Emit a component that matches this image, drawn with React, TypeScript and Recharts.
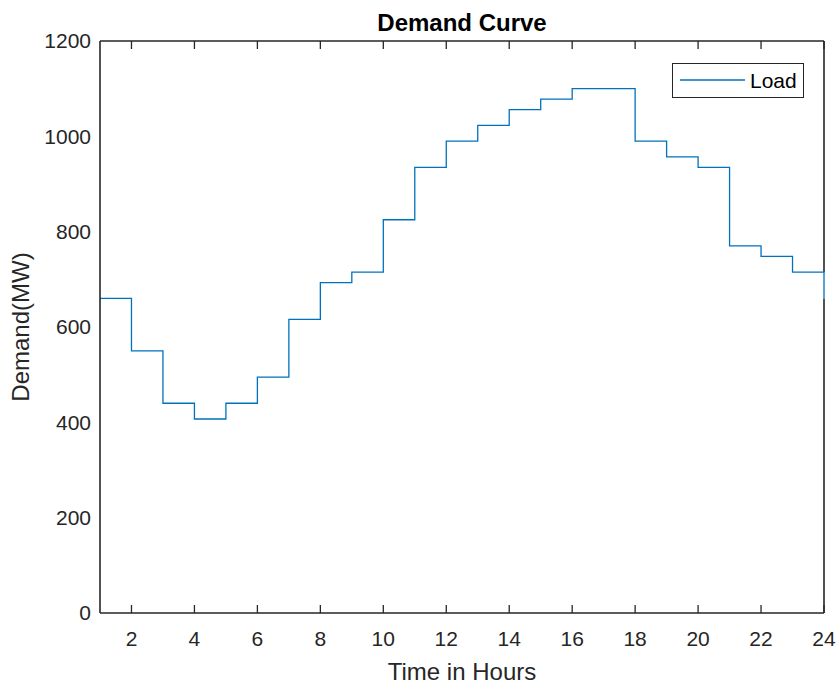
import React from 'react';
import { LineChart, Line, XAxis, YAxis, Legend, ReferenceLine } from 'recharts';

const hours: number[] = [1, 2, 3, 4, 5, 6, 7, 8, 9, 10, 11, 12, 13, 14, 15, 16, 17, 18, 19, 20, 21, 22, 23, 24];
const load: number[] = [660, 550, 440, 407, 440, 495, 616, 693, 715, 825, 935, 990, 1023, 1056, 1078, 1100, 1100, 990, 957, 935, 770, 748, 715, 660];
const xTicks: number[] = [2, 4, 6, 8, 10, 12, 14, 16, 18, 20, 22, 24];
const yTicks: number[] = [0, 200, 400, 600, 800, 1000, 1200];
const xDomain: [number, number] = [1, 24];
const yDomain: [number, number] = [0, 1200];

const data = hours.map((h, i) => ({ hour: h, load: load[i] }));

// right frame drawn in two pieces so the final drop of the series stays visible on top of it
const lastHour = hours[hours.length - 1];
const lastLoad = load[load.length - 1];
const prevLoad = load[load.length - 2];
const rightFrameLow = [{ x: lastHour, y: yDomain[0] }, { x: lastHour, y: Math.min(lastLoad, prevLoad) }];
const rightFrameHigh = [{ x: lastHour, y: Math.max(lastLoad, prevLoad) }, { x: lastHour, y: yDomain[1] }];

const FONT = '"Liberation Sans", Arial, Helvetica, sans-serif';
const AXIS = '#262626';
const BLUE = '#0072BD';

const LegendBox = () => (
  <svg width={132} height={35} style={{ display: 'block' }}>
    <rect x={0.5} y={0.5} width={131} height={34} fill="#fff" stroke={AXIS} strokeWidth={1} />
    <line x1={8} y1={17} x2={73} y2={17} stroke={BLUE} strokeWidth={1.3} />
    <text x={78} y={25} fontFamily={FONT} fontSize={21} fill="#000">Load</text>
  </svg>
);

const lineStyle = { stroke: AXIS, strokeWidth: 1.6 };
const tickStyle = { stroke: AXIS, strokeWidth: 1.3 };
const NoLabel = () => <g />;

export default function App() {
  return (
    <div style={{ position: 'absolute', left: 0, top: 0, width: 836, height: 685, background: '#fff' }}>
      <LineChart width={836} height={685} data={data} margin={{ top: 41, right: 12, left: 0, bottom: 0 }}>
        {/* bottom axis: line + labels */}
        <XAxis
          xAxisId="main"
          dataKey="hour"
          type="number"
          domain={xDomain}
          ticks={xTicks}
          interval={0}
          height={72}
          axisLine={lineStyle}
          tickLine={false}
          tickSize={0}
          tickMargin={18.5}
          tick={{ fill: AXIS, fontSize: 21, fontFamily: FONT }}
          label={{
            content: () => (
              <text x={462} y={680} textAnchor="middle" fontFamily={FONT} fontSize={24} fill={AXIS}>
                Time in Hours
              </text>
            ),
          }}
        />
        {/* bottom inward tick marks */}
        <XAxis
          xAxisId="bottomTicks"
          dataKey="hour"
          type="number"
          domain={xDomain}
          ticks={xTicks}
          interval={0}
          height={30}
          mirror
          axisLine={false}
          tickLine={tickStyle}
          tickSize={8}
          tick={NoLabel}
        />
        {/* top frame with inward ticks */}
        <XAxis
          xAxisId="top"
          dataKey="hour"
          type="number"
          orientation="top"
          domain={xDomain}
          ticks={xTicks}
          interval={0}
          height={30}
          mirror
          axisLine={lineStyle}
          tickLine={tickStyle}
          tickSize={8}
          tick={NoLabel}
          label={{
            content: () => (
              <text x={462} y={31} textAnchor="middle" fontFamily={FONT} fontSize={24} fontWeight="bold" fill="#000">
                Demand Curve
              </text>
            ),
          }}
        />
        {/* left axis: line + labels */}
        <YAxis
          yAxisId="main"
          type="number"
          domain={yDomain}
          ticks={yTicks}
          interval={0}
          width={100}
          axisLine={lineStyle}
          tickLine={false}
          tickSize={0}
          tickMargin={9}
          tick={{ fill: AXIS, fontSize: 21, fontFamily: FONT }}
          label={{
            content: () => (
              <text
                x={29}
                y={327}
                transform="rotate(-90 29 327)"
                textAnchor="middle"
                fontFamily={FONT}
                fontSize={24}
                fill={AXIS}
              >
                Demand(MW)
              </text>
            ),
          }}
        />
        {/* left inward ticks */}
        <YAxis
          yAxisId="leftTicks"
          type="number"
          domain={yDomain}
          ticks={yTicks}
          interval={0}
          width={30}
          mirror
          axisLine={false}
          tickLine={tickStyle}
          tickSize={8}
          tick={NoLabel}
        />
        {/* right inward ticks */}
        <YAxis
          yAxisId="right"
          orientation="right"
          type="number"
          domain={yDomain}
          ticks={yTicks}
          interval={0}
          width={30}
          mirror
          axisLine={false}
          tickLine={tickStyle}
          tickSize={8}
          tick={NoLabel}
        />
        <ReferenceLine xAxisId="main" yAxisId="main" segment={rightFrameLow} stroke={AXIS} strokeWidth={1.6} ifOverflow="visible" />
        <ReferenceLine xAxisId="main" yAxisId="main" segment={rightFrameHigh} stroke={AXIS} strokeWidth={1.6} ifOverflow="visible" />
        <Legend
          layout="horizontal"
          verticalAlign="middle"
          align="center"
          wrapperStyle={{ position: 'absolute', left: 672, top: 63, width: 132, height: 35 }}
          content={() => <LegendBox />}
        />
        <Line
          xAxisId="main"
          yAxisId="main"
          type="stepAfter"
          dataKey="load"
          name="Load"
          stroke={BLUE}
          strokeWidth={1.3}
          dot={false}
          activeDot={false}
          isAnimationActive={false}
        />
      </LineChart>
    </div>
  );
}
